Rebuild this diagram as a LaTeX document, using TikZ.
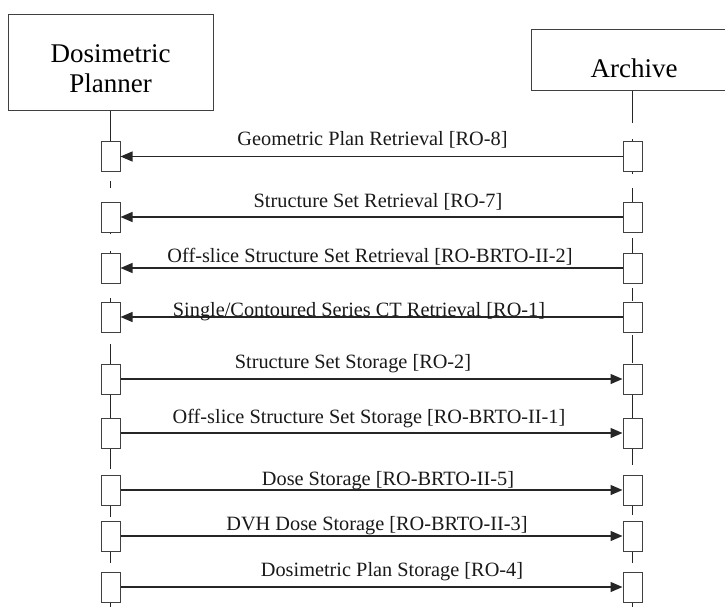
\documentclass[tikz,border=0pt]{standalone}
\usepackage{fontspec}
\setmainfont{Liberation Serif}
\usetikzlibrary{arrows.meta}

\begin{document}
\begin{tikzpicture}[x=1pt,y=-1pt,line width=1pt]
            \tikzstyle{actor}=[draw=black!75,fill=white,inner sep=0pt,font=\fontsize{27}{30}\selectfont]
            \tikzstyle{act}=[draw=black!75,fill=white,minimum width=19pt,minimum height=30pt,inner sep=0pt]
            \tikzstyle{life}=[draw=black!85,line width=1.5pt]
            \tikzstyle{msg}=[draw=black!85,line width=1.3pt,-{Triangle[length=12pt,width=10pt]}]
            \tikzstyle{lbl}=[anchor=base,inner sep=0pt,text=black!90,font=\fontsize{20.3}{22}\selectfont]
            \clip (0,0) rectangle (725,607);

            \node[actor,minimum width=205pt,minimum height=96pt,align=center] (planner) at (110.5,63) {\rule{0pt}{30pt}Dosimetric\\Planner};
            \node[actor,minimum width=206pt,minimum height=61pt,text height=35pt,text depth=0pt] (archive) at (634,60.5) {Archive};

            % lifelines, broken into pieces
            \foreach \a/\b in {111/142, 181/188, 232/234, 251/253, 298/302, 344/365, 394/418, 448/469, 505/517, 550/563, 602/607}
                    \draw[life] (110.5,\a) -- (110.5,\b);
            \foreach \a/\b in {91/123, 139/141, 172/174, 188/203, 238/253, 288/301, 335/363, 393/418, 448/465, 505/515, 550/563, 602/607}
                    \draw[life] (632.5,\a) -- (632.5,\b);

            \foreach \n/\y in {1/156.5, 2/217, 3/268, 4/317, 5/379, 6/433, 7/490, 8/536, 9/587}
            {
                    \node[act] (L-\n) at (110.5,\y) {};
                    \node[act] (R-\n) at (632.5,\y) {};
            }

            \foreach \n in {1,...,4}
                    \draw[msg] (R-\n) -- (L-\n);
            \foreach \n in {5,...,9}
                    \draw[msg] (L-\n) -- (R-\n);

            \foreach \n/\x/\y/\txt in {1/372.5/145/{Geometric Plan Retrieval [RO-8]},
                                       2/378/207/{Structure Set Retrieval [RO-7]},
                                       3/370/262/{Off-slice Structure Set Retrieval [RO-BRTO-II-2]},
                                       4/359/316/{Single/Contoured Series CT Retrieval [RO-1]},
                                       5/353/368/{Structure Set Storage [RO-2]},
                                       6/369/423/{Off-slice Structure Set Storage [RO-BRTO-II-1]},
                                       7/388/485/{Dose Storage [RO-BRTO-II-5]},
                                       8/377/530/{DVH Dose Storage [RO-BRTO-II-3]},
                                       9/392/576/{Dosimetric Plan Storage [RO-4]}}
                    \node[lbl] (T-\n) at (\x,\y) {\txt};
\end{tikzpicture}
\end{document}
